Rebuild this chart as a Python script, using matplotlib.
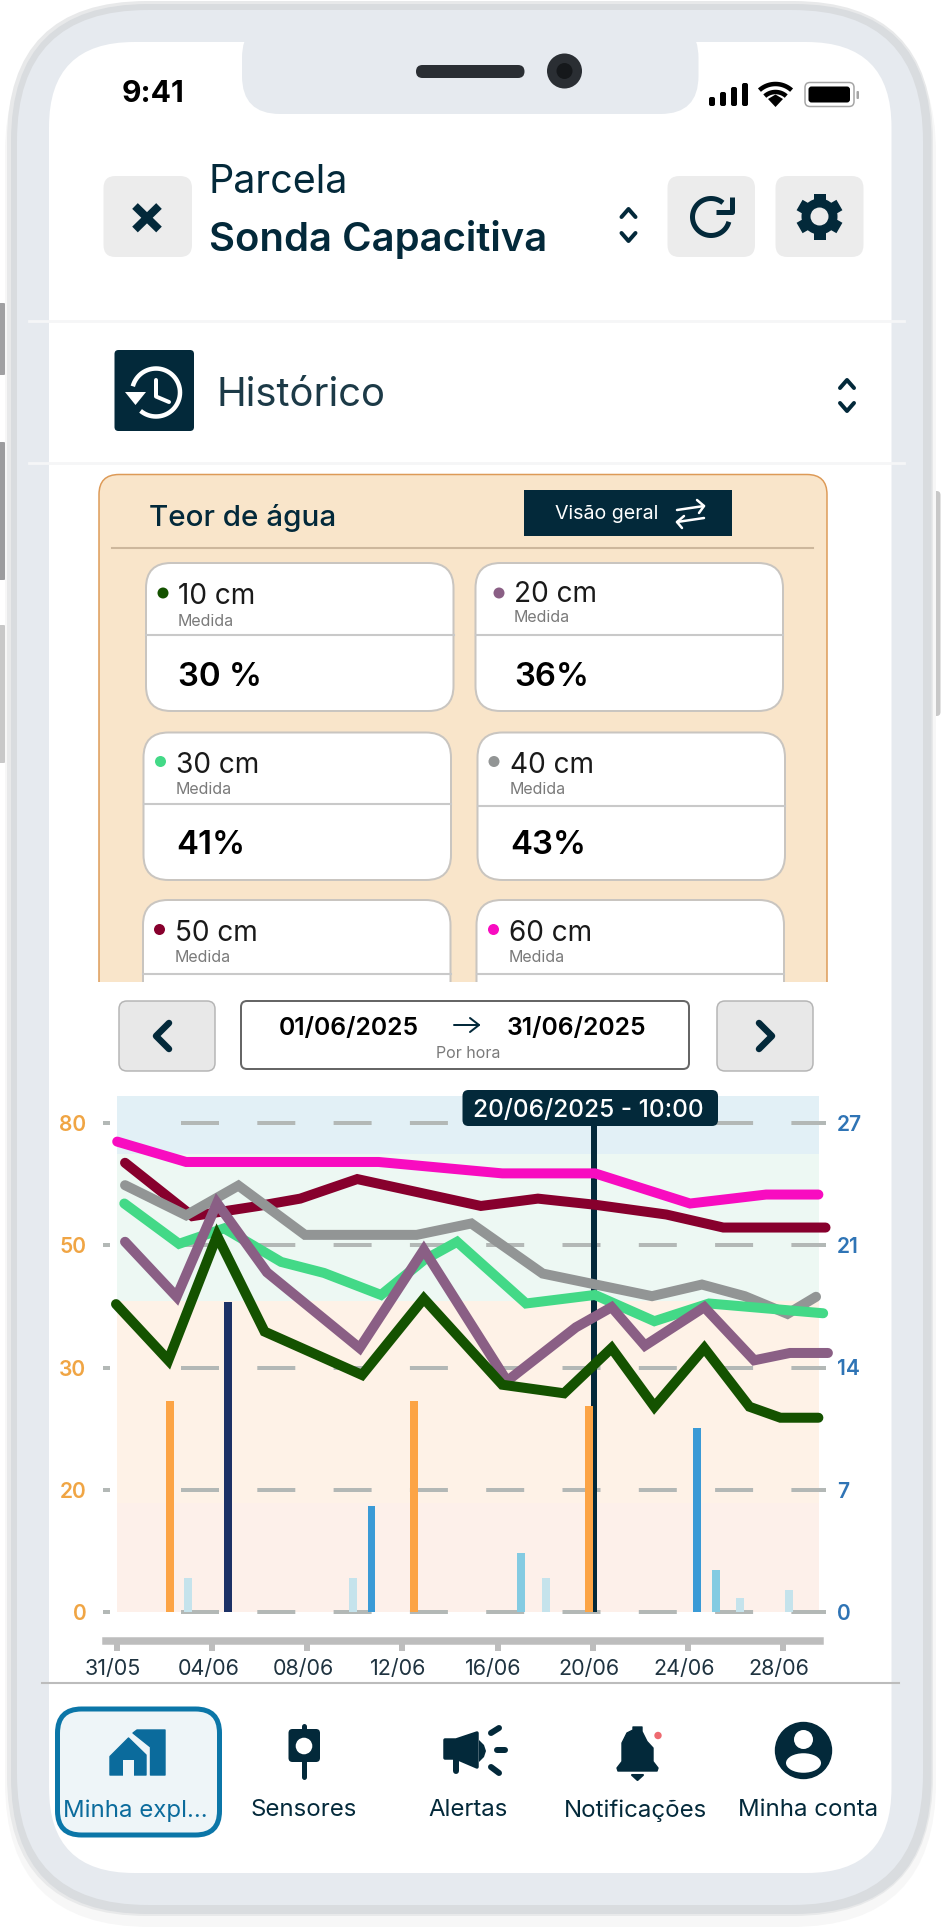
import numpy as np
import matplotlib
matplotlib.use("Agg")
import matplotlib.pyplot as plt
from matplotlib.patches import FancyBboxPatch, Circle, Ellipse, Polygon, Rectangle
from matplotlib.ticker import NullLocator
from matplotlib.transforms import ScaledTranslation

plt.rcParams['font.family'] = ['Inter', 'DejaVu Sans']
plt.rcParams['lines.scale_dashes'] = False

# dias contados a partir de 31/05
dias_10 = [-0.05, 2.15, 4.2, 6.2, 10.3, 12.9, 16.2, 18.8, 20.8, 22.6, 24.7, 26.6, 27.9, 29.5]
vals_10 = [40.4, 31.2, 52.4, 35.9, 29.4, 41.3, 28.6, 27.9, 33.2, 26.8, 33.2, 26.8, 25.9, 25.9]
dias_20 = [0.33, 2.5, 4.2, 6.3, 10.2, 12.9, 16.4, 19.3, 20.8, 22.2, 24.7, 26.8, 28.3, 29.9]
vals_20 = [50.9, 41.6, 60.4, 45.6, 33.2, 49.3, 28.9, 36.6, 39.9, 33.6, 39.9, 31.2, 32.4, 32.4]
dias_30 = [0.3, 2.6, 4.5, 6.9, 8.7, 11.1, 12.9, 14.3, 17.2, 20.1, 22.6, 24.9, 29.7]
vals_30 = [60.3, 50.4, 54.2, 47.3, 45.5, 41.9, 47.6, 50.9, 40.5, 41.9, 37.6, 40.5, 38.9]
dias_40 = [0.33, 2.9, 5.1, 7.9, 12.6, 14.9, 17.9, 22.5, 24.6, 26.4, 28.2, 29.4]
vals_40 = [64.8, 57.4, 64.7, 52.6, 52.6, 55.4, 45.4, 41.7, 43.6, 41.7, 38.8, 41.6]
dias_50 = [0.33, 3.16, 5.95, 7.7, 10.1, 12.7, 15.3, 17.7, 20.1, 23.1, 25.5, 29.8]
vals_50 = [70.3, 57.2, 59.7, 61.5, 66.3, 63.0, 59.7, 61.5, 60.0, 57.6, 54.4, 54.4]
dias_60 = [0.0, 2.9, 11.0, 16.2, 20.1, 24.1, 27.3, 29.5]
vals_60 = [75.5, 70.5, 70.5, 67.7, 67.7, 60.3, 62.5, 62.5]

# barras (eixo da direita)
dias_laranja = [2.22, 12.5, 19.85]
vals_laranja = [12.05, 12.05, 11.8]
dias_marinho = [4.65]
vals_marinho = [17.75]
dias_azul = [10.7, 24.4]
vals_azul = [6.06, 10.5]
dias_claro = [17.0, 25.2]
vals_claro = [3.37, 2.39]
dias_palido = [2.98, 9.92, 18.03, 26.2, 28.28]
vals_palido = [1.92, 1.96, 1.96, 0.8, 1.26]

# faixas de fundo do grafico
faixas_lim = [0, 17.8, 40.9, 72.5, 86.7]
faixas_cor = ['#fdf0ea', '#fef2e7', '#edf8f3', '#e2f0f6']

ticks_esq = [0, 20, 30, 50, 80]
ticks_dir = [0, 7, 14, 21, 27]
ticks_x = [0, 4, 8, 12, 16, 20, 24, 28]
labels_x = ['31/05', '04/06', '08/06', '12/06', '16/06', '20/06', '24/06', '28/06']

cartoes = [('10 cm', '30 %', '#145200'), ('20 cm', '36%', '#8a5f85'),
           ('30 cm', '41%', '#43d987'), ('40 cm', '43%', '#929595'),
           ('50 cm', '', '#87002d'), ('60 cm', '', '#f80cc0')]
menu = ['Minha expl...', 'Sensores', 'Alertas', 'Notificações', 'Minha conta']

ESCURO = '#03293a'
W, H = 942, 1930
fig = plt.figure(figsize=(W / 100, H / 100), dpi=100, facecolor='white')
ui = fig.add_axes([0, 0, 1, 1], zorder=0)
ui.set_xlim(0, W)
ui.set_ylim(H, 0)
ui.axis('off')


def caixa(x0, y0, x1, y1, r, fc, ec='none', lw=0, z=1):
    p = FancyBboxPatch((x0, y0), x1 - x0, y1 - y0, boxstyle=f'round,pad=0,rounding_size={r}',
                       fc=fc, ec=ec, lw=lw * 0.72, zorder=z)
    ui.add_patch(p)


def texto(x, y, s, px, cor=ESCURO, peso='normal', ha='left', va='center', z=5):
    ui.text(x, y, s, fontsize=px * 0.72, color=cor, fontweight=peso, ha=ha, va=va, zorder=z)


def traco(xs, ys, lw, cor=ESCURO, z=4, cap='round'):
    ui.plot(xs, ys, color=cor, lw=lw * 0.72, solid_capstyle=cap, solid_joinstyle='round', zorder=z)


def arco(cx, cy, r, a0, a1, lw, cor=ESCURO, z=4):
    a = np.radians(np.linspace(a0, a1, 60))
    traco(cx + r * np.cos(a), cy - r * np.sin(a), lw, cor, z, 'butt')


def setas_duplas(x, y1, y2):
    traco([x - 7, x, x + 7], [y1 + 4, y1 - 4, y1 + 4], 4)
    traco([x - 7, x, x + 7], [y2 - 4, y2 + 4, y2 - 4], 4)


# corpo do telefone
caixa(5, 8, 936, 1927, 145, '#f7f7f7')
caixa(7, 1, 933, 1916, 140, '#e8e9ea', z=1.1)
caixa(11, 4, 931.5, 1914, 137, '#d9dcdf', z=1.15)
caixa(17, 10, 923, 1905, 131, '#e6eaef', z=1.2)
caixa(49, 42, 891.5, 1873, 85, 'white', z=1.3)
caixa(242, 20, 698.5, 114, 38, '#e6eaef', z=1.4)
for y0, y1, cor in [(303, 375, '#a0a0a2'), (442, 580, '#9c9c9e'), (625, 763, '#c8c8c8')]:
    caixa(-6, y0, 7, y1, 4, cor, z=0.5)
caixa(928, 491, 940.5, 716, 4, '#c8c8c8', z=0.5)

# notch e barra de estado
caixa(416, 65, 524.5, 78, 6.5, '#2a2e33', z=2)
ui.add_patch(Circle((564.5, 71), 17.5, fc='#2a2e33', ec='none', zorder=2))
ui.add_patch(Circle((564.5, 71), 8, fc='#15181b', ec='none', zorder=2.1))
texto(122, 94, '9:41', 30, 'black', 'bold')
for i, topo_b in enumerate([97, 92, 87, 83]):
    caixa(709 + i * 11, topo_b, 715 + i * 11, 106, 2, 'black', z=3)
for r in [24, 16]:
    arco(775.5, 108, r, 48, 132, 4.5, 'black')
ui.add_patch(Polygon([[768, 99], [775.5, 94.5], [783, 99], [775.5, 107]], fc='black', ec='none', zorder=4))
caixa(805, 82.5, 854, 106.5, 5, 'white', '#a5a5a5', 1.5, z=3)
caixa(808.5, 86.5, 850, 102.5, 3, 'black', z=3.1)
caixa(856.5, 91, 859, 99, 1, '#a5a5a5', z=3)

# cabecalho
for x0, x1 in [(103.5, 192), (667.5, 755), (775.5, 863.5)]:
    caixa(x0, 176, x1, 257, 12, '#ececec', z=2)
traco([135, 159], [206, 229.5], 8, cap='butt')
traco([159, 135], [206, 229.5], 8, cap='butt')
texto(208.5, 193, 'Parcela', 39.5, va='baseline')
texto(209, 251, 'Sonda Capacitiva', 40, peso='semibold', va='baseline')
setas_duplas(628.5, 213, 237)
arco(711, 217, 18.5, -15, -310, 5)
traco([731.5, 731.5, 716], [197, 212, 212], 5, cap='butt')
ang = np.radians(np.arange(30, 390, 60))
for a in ang:
    traco([819.5, 819.5 + 23 * np.cos(a)], [216.5, 216.5 + 23 * np.sin(a)], 12, cap='butt')
ui.add_patch(Circle((819.5, 216.5), 18, fc=ESCURO, ec='none', zorder=4))
ui.add_patch(Circle((819.5, 216.5), 9, fc='#ececec', ec='none', zorder=4.5))

ui.plot([29, 904], [321, 321], color='#f5f6f7', lw=2, zorder=2)
caixa(114.5, 350, 194, 431, 4, ESCURO, z=2)
arco(156, 392.5, 24, 165, -130, 4.5, 'white')
ui.add_patch(Polygon([[125, 392], [146, 392], [135.5, 405]], fc='white', ec='none', zorder=4))
traco([156, 156, 169], [380, 396.5, 402], 4, 'white')
texto(217, 406, 'Histórico', 40, '#1c3a47', va='baseline')
setas_duplas(847, 384, 407)
ui.plot([29, 904], [463, 463], color='#f5f6f7', lw=2, zorder=2)

# painel teor de agua
caixa(99, 474.5, 827, 1010, 20, '#f9e5ca', '#dd9a57', 1.5, z=2)
texto(149, 526, 'Teor de água', 29.6, peso='medium', va='baseline')
ui.add_patch(Rectangle((524, 490), 208, 46, fc=ESCURO, ec='none', zorder=3))
texto(555, 514, 'Visão geral', 19.6, 'white')
traco([677, 704], [510, 506], 2.5, 'white')
traco([697, 704, 699], [500, 506, 513], 2.5, 'white')
traco([704, 677], [518, 522], 2.5, 'white')
traco([684, 677, 682], [516, 522, 528], 2.5, 'white')
ui.plot([112, 813], [548, 548], color='#cdb79c', lw=1.5, zorder=3)

# x0, x1, topo, base, divisor, x do ponto, x do texto, y do ponto, y do rotulo, y de medida
geo = [(146, 453.5, 563, 711, 635, 163, 178, 593, 596.5, 621),
       (475.5, 783, 563, 711, 635, 499, 514, 593, 594.5, 618),
       (143.5, 451, 732.5, 880, 804, 160.5, 176, 761.5, 765.5, 789.5),
       (477.5, 785, 732.5, 880, 806, 494, 510, 761.5, 765.5, 789.5),
       (143, 450.5, 900, 1030, 974, 159.5, 175, 929.5, 933.5, 957.5),
       (476.5, 784, 900, 1030, 974, 493.5, 509, 929.5, 933.5, 957.5)]
val_y = [677, 677, 846, 846]
for i, (c, g) in enumerate(zip(cartoes, geo)):
    x0, x1, topo_c, base, div, xp, xt, yp, yr, ym = g
    caixa(x0, topo_c, x1, base, 25, 'white', '#c9c5c0', 2, z=3)
    ui.plot([x0, x1], [div, div], color='#c9c9c9', lw=1.5, zorder=3.5)
    ui.add_patch(Circle((xp, yp), 5.5, fc=c[2], ec='none', zorder=4))
    texto(xt, yr, c[0], 28, '#1a1a1a')
    texto(xt, ym, 'Medida', 16, '#7a7a7a')
    if c[1]:
        texto(xt + 0.5, val_y[i], c[1], 33, 'black', 'semibold')
ui.add_patch(Rectangle((60, 982), 820, 60, fc='white', ec='none', zorder=4.8))

# seletor de datas
for x0, x1 in [(119, 215), (717, 813)]:
    caixa(x0, 1001, x1, 1071, 8, '#e8e8e8', '#b5b5b5', 1.5, z=5)
traco([169, 156, 169], [1023, 1036, 1049], 6.5, z=6)
traco([759, 772, 759], [1023, 1036, 1049], 6.5, z=6)
caixa(241, 1001, 689, 1069, 6, 'white', '#666666', 2, z=5)
texto(348.5, 1029, '01/06/2025', 24.7, 'black', 'semibold', ha='center', z=6)
texto(576.5, 1029, '31/06/2025', 24.7, 'black', 'semibold', ha='center', z=6)
traco([454, 479], [1025, 1025], 2, z=6)
traco([470, 479, 470], [1018, 1025, 1032], 2, z=6)
texto(468, 1054, 'Por hora', 16, '#7a7a7a', ha='center', z=6)

# menu inferior
ui.plot([42, 899], [1683, 1683], color='#bcbcbc', lw=1.5, zorder=3)
caixa(57.5, 1709, 219.5, 1835, 24, '#eef5f8', '#0b76a8', 5, z=3)
AZUL = '#0b6b9c'
ui.add_patch(Polygon([[133, 1733], [137, 1730], [165, 1730], [165, 1775], [150.5, 1775], [150.5, 1747]],
                     fc=AZUL, ec=AZUL, lw=1, joinstyle='round', zorder=4))
ui.add_patch(Polygon([[128.5, 1738], [146, 1755], [146, 1775], [110, 1775], [110, 1756.5]],
                     fc=AZUL, ec=AZUL, lw=1, joinstyle='round', zorder=4.2))
ui.add_patch(Rectangle((123, 1760), 11, 16, fc='#eef5f8', ec='none', zorder=4.3))
# sensor
traco([304, 304], [1726, 1777], 5)
caixa(288.5, 1729, 320, 1762, 4, ESCURO, z=4.2)
ui.add_patch(Circle((304, 1746), 8.3, fc='white', ec='none', zorder=4.3))
# alertas
ui.add_patch(Polygon([[445, 1740], [456, 1740], [477, 1733], [477, 1767], [456, 1758], [445, 1758]],
                     fc=ESCURO, ec=ESCURO, lw=2.5, joinstyle='round', zorder=4))
traco([456, 456], [1757, 1771], 6)
ui.add_patch(Polygon([[479, 1740], [484, 1745], [486, 1751], [484, 1757], [479, 1762]],
                     fc=ESCURO, ec='none', zorder=4))
traco([491, 499], [1733, 1728], 6)
traco([497, 505], [1750, 1750], 6)
traco([491, 499], [1767, 1773], 6)
# sino
ui.add_patch(Polygon([[618, 1771], [617, 1768], [622, 1761.5], [622, 1743], [627, 1733], [633, 1730], [633, 1727],
                     [642, 1727], [642, 1731.5], [647, 1741.5], [653, 1748], [653, 1761.5], [658, 1768], [657, 1771]],
                     fc=ESCURO, ec=ESCURO, lw=1, joinstyle='round', zorder=4))
ui.add_patch(Polygon([[632, 1775], [643, 1775], [637.5, 1780]], fc=ESCURO, ec=ESCURO, lw=1.5,
                     joinstyle='round', zorder=4))
ui.add_patch(Circle((658, 1735.5), 3.7, fc='#ee6a70', ec='none', zorder=4))
# conta
ui.add_patch(Circle((803.5, 1750.5), 28.7, fc=ESCURO, ec='none', zorder=4))
ui.add_patch(Circle((803.5, 1739.5), 9.5, fc='white', ec='none', zorder=4.1))
ui.add_patch(Ellipse((803.5, 1763), 35, 19.5, fc='white', ec='none', zorder=4.1))
for nome, x, cor in zip(menu, [135.8, 303.5, 468.5, 635.5, 808.3], [AZUL, ESCURO, ESCURO, ESCURO, ESCURO]):
    texto(x, 1810.5, nome, 24, cor, ha='center')


# eixos do grafico: os ticks sao igualmente espacados, a escala e por trechos
def escala(knots):
    pos = [-1, 0, 1, 2, 3, 4, 5]
    return (lambda v: np.interp(v, knots, pos), lambda p: np.interp(p, pos, knots))


x_esq, x_dir, y_topo, y_base = 109.5, 826, 1096, 1614
rect = [x_esq / W, 1 - y_base / H, (x_dir - x_esq) / W, (y_base - y_topo) / H]
ax = fig.add_axes(rect, zorder=1, facecolor='none')
ax2 = ax.twinx()
ax2.set_zorder(2)
ax.set_yscale('function', functions=escala([-20, 0, 20, 30, 50, 80, 110]))
ax2.set_yscale('function', functions=escala([-7, 0, 7, 14, 21, 27, 33]))
ax.set_ylim(-0.33, 86.7)
ax2.set_ylim(-0.115, 28.3)
ax.set_xlim(-0.324, 29.82)

for i, cor in enumerate(faixas_cor):
    ax.fill_between([0, 29.54], faixas_lim[i], faixas_lim[i + 1], color=cor, lw=0, zorder=1)
ax.hlines(ticks_esq, 2.69, 29.82, colors='#b3b8b6', lw=4 * 0.72,
          linestyles=[(0, (38 * 0.72, 38.3 * 0.72))], zorder=2, clip_on=False)
ax.vlines(20.04, 0, 86, colors=ESCURO, lw=6 * 0.72, zorder=3)

series = [(dias_60, vals_60, cartoes[5][2]), (dias_50, vals_50, cartoes[4][2]),
          (dias_40, vals_40, cartoes[3][2]), (dias_30, vals_30, cartoes[2][2]),
          (dias_20, vals_20, cartoes[1][2]), (dias_10, vals_10, cartoes[0][2])]
for d, v, cor in series:
    ax.plot(d, v, color=cor, lw=10 * 0.72, solid_joinstyle='miter', solid_capstyle='round',
            zorder=4, clip_on=False)

larg = 0.33
ax2.bar(dias_laranja, vals_laranja, larg, color='#fca445')
ax2.bar(dias_marinho, vals_marinho, larg, color='#1c3166')
ax2.bar(dias_azul, vals_azul, larg, color='#3a9ad6')
ax2.bar(dias_claro, vals_claro, larg, color='#84cbe2')
ax2.bar(dias_palido, vals_palido, larg, color='#c5e3ec')

ax.set_yticks(ticks_esq)
ax.set_yticklabels([str(t) for t in ticks_esq])
ax.yaxis.set_minor_locator(NullLocator())
ax.tick_params(axis='y', length=7 * 0.72, width=4 * 0.72, color='#b3b8b6', pad=16 * 0.72,
               labelsize=21 * 0.72, labelcolor='#f0a544')
ax2.set_yticks(ticks_dir)
ax2.set_yticklabels([str(t) for t in ticks_dir])
ax2.yaxis.set_minor_locator(NullLocator())
ax2.tick_params(axis='y', length=0, pad=11 * 0.72, labelsize=21 * 0.72, labelcolor='#2f74b5')
for lb in ax.get_yticklabels() + ax2.get_yticklabels():
    lb.set_fontweight('semibold')

for s in ['top', 'left', 'right']:
    ax.spines[s].set_visible(False)
    ax2.spines[s].set_visible(False)
ax2.spines['bottom'].set_visible(False)
ax.spines['bottom'].set_position(('outward', (1641 - y_base) * 0.72))
ax.spines['bottom'].set_linewidth(7.5 * 0.72)
ax.spines['bottom'].set_color('#bdbdbd')
ax.spines['bottom'].set_bounds(-0.48, 29.57)
ax.set_xticks(ticks_x)
ax.set_xticklabels(labels_x)
ax.tick_params(axis='x', length=10 * 0.72, width=6 * 0.72, color='#bdbdbd', pad=6,
               labelsize=21.5 * 0.72, labelcolor='#1f3340')
desloc = ScaledTranslation(-4 / 100, 0, fig.dpi_scale_trans)
for lb in ax.get_xticklabels():
    lb.set_transform(lb.get_transform() + desloc)

# tooltip sobre o grafico
topo = fig.add_axes([0, 0, 1, 1], zorder=3, facecolor='none')
topo.set_xlim(0, W)
topo.set_ylim(H, 0)
topo.axis('off')
topo.add_patch(FancyBboxPatch((462.5, 1090), 255.5, 36, boxstyle='round,pad=0,rounding_size=6',
                              fc=ESCURO, ec='none'))
topo.text(588.5, 1110, '20/06/2025 - 10:00', fontsize=24.5 * 0.72, color='white', fontweight='medium',
          ha='center', va='center')

fig.savefig('out.png', dpi=100)
